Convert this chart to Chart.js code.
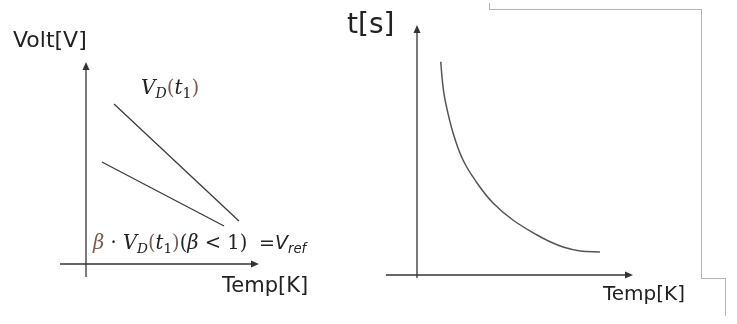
<!DOCTYPE html>
<html>
<head>
<meta charset="utf-8">
<script src="https://cdn.jsdelivr.net/npm/chart.js@4/dist/chart.umd.min.js"></script>
<style>
  html, body { margin:0; padding:0; background:#fff; }
  #wrap { position:relative; width:737px; height:324px; overflow:hidden; }
  canvas { position:absolute; top:0; }
  .lbl { position:absolute; font-family:"DejaVu Sans", Verdana, sans-serif; color:#222; white-space:nowrap; line-height:1; }
  .math { position:absolute; font-family:"DejaVu Serif", "Liberation Serif", serif; font-style:italic; color:#222; white-space:nowrap; line-height:1; }
  .math sub { font-size:70%; vertical-align:-0.3em; line-height:0; }
  .br { color:#7b5b55; font-style:normal; }
  .bi { color:#7b5b55; font-style:italic; }
  .up { font-style:normal; }
  .gl { position:absolute; background:#b4b4b4; }
</style>
</head>
<body>
<div id="wrap">
  <canvas id="left" width="340" height="324" style="left:0"></canvas>
  <canvas id="right" width="397" height="324" style="left:340px"></canvas>

  <div class="lbl" style="left:13px;top:29px;font-size:22px">Volt[V]</div>
  <div class="lbl" style="left:222px;top:275px;font-size:21px">Temp[K]</div>
  <div class="math" style="left:141px;top:77px;font-size:20px">V<sub>D</sub><span class="br">(</span>t<sub class="up">1</sub><span class="br">)</span></div>
  <div class="math" style="left:93px;top:233px;font-size:19.5px"><span class="bi">β</span><span class="up"> · </span>V<sub>D</sub><span class="br">(</span>t<sub class="up">1</sub><span class="br">)</span><span class="up">(</span>β<span class="up"> &lt; 1)</span></div>
  <div class="lbl" style="left:259px;top:233px;font-size:19px">=<i>V<sub style="font-size:70%;vertical-align:-0.3em;line-height:0">ref</sub></i></div>

  <div class="lbl" style="left:347px;top:10px;font-size:28px">t[s]</div>
  <div class="lbl" style="left:603px;top:283px;font-size:20px">Temp[K]</div>

  <div class="gl" style="left:489px;top:3px;width:1px;height:7px"></div>
  <div class="gl" style="left:489px;top:9px;width:213px;height:1px"></div>
  <div class="gl" style="left:701px;top:9px;width:1px;height:270px"></div>
  <div class="gl" style="left:701px;top:278px;width:25px;height:1px"></div>
  <div class="gl" style="left:725px;top:278px;width:1px;height:38px"></div>
</div>
<script>
// ---- Left panel data (unitless conceptual axes, 0..10) ----
const vdTemp   = [1.62, 8.84];
const vdVolt   = [7.92, 2.13];
const vrefTemp = [0.92, 7.98];
const vrefVolt = [5.05, 1.88];

// ---- Right panel data ----
const curveTemp = [1.10, 1.18, 1.30, 1.67, 2.13, 2.78, 3.52, 4.44, 5.56, 6.16, 6.76, 7.55, 8.47];
const curveTime = [8.53, 7.72, 7.00, 5.68, 4.60, 3.68, 2.88, 2.20, 1.60, 1.33, 1.12, 0.96, 0.92];

const pts = (xs, ys) => xs.map((x, i) => ({ x: x, y: ys[i] }));

const arrowAxes = {
  id: 'arrowAxes',
  afterDatasetsDraw(chart, args, opts) {
    const ctx = chart.ctx, sx = chart.scales.x, sy = chart.scales.y;
    ctx.save();
    ctx.strokeStyle = '#333'; ctx.fillStyle = '#333'; ctx.lineWidth = 1.3;
    const x0 = sx.getPixelForValue(0), y0 = sy.getPixelForValue(0);
    const yb = sy.getPixelForValue(opts.yFrom), yt = sy.getPixelForValue(opts.yTo);
    ctx.beginPath(); ctx.moveTo(x0, yb); ctx.lineTo(x0, yt + 6); ctx.stroke();
    ctx.beginPath(); ctx.moveTo(x0, yt); ctx.lineTo(x0 - 3.5, yt + 8); ctx.lineTo(x0 + 3.5, yt + 8); ctx.closePath(); ctx.fill();
    const xl = sx.getPixelForValue(opts.xFrom), xr = sx.getPixelForValue(opts.xTo);
    ctx.beginPath(); ctx.moveTo(xl, y0); ctx.lineTo(xr - 6, y0); ctx.stroke();
    ctx.beginPath(); ctx.moveTo(xr, y0); ctx.lineTo(xr - 8, y0 - 3.5); ctx.lineTo(xr - 8, y0 + 3.5); ctx.closePath(); ctx.fill();
    ctx.restore();
  }
};

function makeChart(id, datasets, xr, yr, axisOpts) {
  return new Chart(document.getElementById(id), {
    type: 'scatter',
    data: { datasets: datasets },
    options: {
      responsive: false, animation: false,
      layout: { padding: 0 },
      scales: {
        x: { type: 'linear', display: false, min: xr[0], max: xr[1] },
        y: { type: 'linear', display: false, min: yr[0], max: yr[1] }
      },
      plugins: { legend: { display: false }, tooltip: { enabled: false }, arrowAxes: axisOpts }
    },
    plugins: [arrowAxes]
  });
}

const lineStyle = { showLine: true, pointRadius: 0, borderColor: '#3a3a3a', borderWidth: 1.3, clip: false };

makeChart('left', [
  Object.assign({ data: pts(vdTemp, vdVolt) }, lineStyle),
  Object.assign({ data: pts(vrefTemp, vrefVolt) }, lineStyle)
], [-86 / 17.3, 254 / 17.3], [-60 / 20.2, 264 / 20.2], { xFrom: -1.5, xTo: 10, yFrom: -0.64, yTo: 10 });

makeChart('right', [
  Object.assign({ data: pts(curveTemp, curveTime), tension: 0.4 }, lineStyle, { borderColor: '#555', borderWidth: 1.5 })
], [-77 / 21.6, 320 / 21.6], [-49 / 25, 275 / 25], { xFrom: -1.44, xTo: 10, yFrom: -0.12, yTo: 10 });
</script>
</body>
</html>
